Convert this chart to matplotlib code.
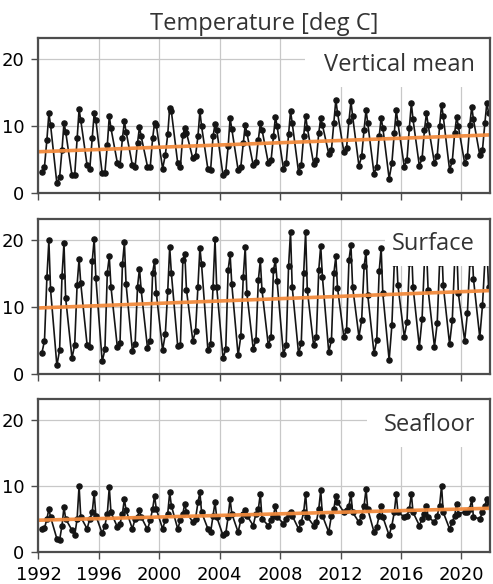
import matplotlib
matplotlib.use("Agg")
import matplotlib.pyplot as plt
import numpy as np
from matplotlib.patches import Rectangle

# sampling: 5 casts per year, given as fraction of the year
years = np.arange(1992, 2022)
sample_frac = [0.22, 0.40, 0.56, 0.69, 0.80]

# values per year: [winter low, late winter, spring, summer peak, autumn]
vertical_mean = [
    [3.2, 4.0, 8.0, 11.9, 10.2], [1.5, 2.4, 6.5, 10.5, 9.2], [2.7, 2.7, 8.2, 12.5, 10.9],
    [4.2, 3.7, 8.2, 11.9, 10.9], [3.0, 3.1, 7.2, 11.5, 9.7], [4.6, 4.2, 8.2, 10.7, 9.2],
    [4.2, 4.0, 7.5, 9.9, 8.5], [4.0, 3.9, 8.2, 10.5, 10.2], [3.7, 5.7, 8.8, 12.7, 12.2],
    [4.5, 4.0, 8.7, 9.7, 9.0], [5.2, 5.6, 8.5, 12.2, 10.0], [3.6, 3.5, 8.5, 10.3, 9.5],
    [2.7, 3.2, 7.0, 11.2, 9.6], [3.5, 4.0, 7.5, 10.2, 9.0], [4.2, 4.7, 8.0, 10.4, 9.5],
    [4.5, 4.9, 8.5, 11.4, 10.0], [3.7, 4.5, 8.8, 12.2, 10.5], [3.2, 4.2, 8.5, 11.5, 9.8],
    [4.4, 5.0, 9.0, 11.2, 10.2], [5.9, 6.5, 10.5, 13.9, 12.0], [6.2, 6.8, 10.8, 13.7, 11.5],
    [4.1, 5.5, 9.5, 12.4, 10.5], [2.9, 4.0, 8.5, 11.2, 9.8], [2.2, 4.5, 9.0, 12.4, 10.5],
    [4.0, 5.0, 9.8, 13.4, 11.0], [4.1, 5.2, 9.5, 11.9, 10.2], [4.5, 5.5, 10.0, 13.2, 11.5],
    [3.5, 4.8, 9.0, 11.4, 10.0], [4.5, 5.5, 10.2, 12.9, 11.0], [5.7, 6.5, 10.5, 13.5, 12.0],
]

surface = [
    [3.0, 4.9, 14.4, 19.9, 12.6], [1.2, 3.5, 14.6, 19.5, 11.3], [2.3, 4.3, 13.3, 17.1, 13.5],
    [4.3, 4.0, 16.8, 20.1, 14.3], [1.8, 3.6, 15.1, 17.5, 13.0], [4.0, 4.6, 16.3, 19.6, 13.4],
    [3.4, 4.4, 13.0, 15.7, 12.5], [3.8, 4.8, 15.1, 16.8, 12.1], [3.5, 5.9, 12.3, 18.9, 15.0],
    [4.1, 4.3, 17.0, 17.9, 12.5], [4.9, 6.3, 13.0, 18.8, 16.3], [3.5, 4.4, 13.0, 20.1, 13.0],
    [2.3, 3.6, 15.5, 17.8, 13.4], [2.7, 5.6, 14.4, 18.9, 12.0], [3.7, 5.0, 14.0, 16.9, 12.5],
    [4.2, 5.5, 15.5, 16.9, 13.8], [2.9, 4.2, 16.0, 21.2, 13.0], [3.0, 4.5, 15.0, 21.2, 12.5],
    [4.2, 5.5, 15.5, 19.1, 14.5], [3.2, 5.0, 15.0, 17.5, 12.8], [5.5, 6.5, 17.0, 19.2, 13.0],
    [5.5, 8.0, 16.0, 18.2, 11.8], [3.0, 5.0, 15.3, 18.8, 12.0], [2.0, 7.2, 16.5, 19.0, 13.2],
    [5.5, 7.7, 16.5, 19.5, 13.0], [4.0, 8.2, 17.0, 19.0, 12.5], [4.0, 7.5, 16.5, 20.0, 13.2],
    [4.4, 8.0, 17.0, 19.5, 12.0], [4.9, 9.0, 16.5, 20.0, 14.2], [5.4, 10.2, 17.0, 19.0, 13.0],
]

seafloor = [
    [3.5, 3.6, 5.0, 6.5, 5.3], [2.0, 1.8, 4.0, 6.8, 5.0], [3.3, 2.5, 5.0, 10.0, 5.3],
    [3.5, 5.0, 6.0, 8.9, 5.5], [2.8, 4.0, 5.8, 9.8, 6.0], [3.8, 4.3, 5.8, 8.0, 6.3],
    [3.5, 5.0, 5.3, 6.3, 5.3], [3.4, 4.8, 6.5, 8.5, 6.5], [3.5, 4.8, 5.8, 9.0, 7.0],
    [3.5, 4.8, 5.8, 7.3, 6.0], [4.5, 5.0, 7.5, 9.0, 6.0], [3.5, 3.0, 5.5, 7.5, 5.3],
    [2.5, 2.8, 5.3, 8.0, 5.8], [3.0, 4.8, 5.8, 6.3, 5.5], [4.0, 5.8, 6.5, 8.8, 5.0],
    [4.0, 4.8, 5.5, 7.0, 5.3], [4.3, 5.0, 5.8, 6.0, 5.5], [3.5, 4.5, 6.0, 8.8, 5.3],
    [4.0, 4.5, 6.5, 9.3, 5.5], [3.0, 5.5, 6.5, 8.5, 7.5], [6.0, 6.3, 7.0, 8.8, 6.0],
    [4.5, 5.5, 7.0, 9.5, 6.5], [3.0, 3.8, 5.5, 7.0, 5.3], [2.5, 4.0, 6.0, 8.8, 6.0],
    [5.3, 5.5, 6.5, 8.8, 6.0], [4.0, 5.0, 5.8, 7.0, 5.3], [4.5, 5.5, 7.0, 10.0, 6.0],
    [3.5, 4.5, 5.5, 7.3, 5.8], [6.0, 6.0, 6.5, 8.0, 5.3], [5.0, 6.0, 7.0, 8.0, 7.5],
]

# linear trend, value at start and end of the period
trend_x = [1992.0, 2021.9]
trend_vertical = [6.2, 8.7]
trend_surface = [9.8, 12.4]
trend_seafloor = [4.8, 6.6]

panel_names = ["Vertical mean", "Surface", "Seafloor"]
xtick_years = [1992, 1996, 2000, 2004, 2008, 2012, 2016, 2020]
ytick_vals = [0, 10, 20]

# time axis
t = (years[:, None] + np.array(sample_frac)[None, :]).ravel()

series = [vertical_mean, surface, seafloor]
trends = [trend_vertical, trend_surface, trend_seafloor]

fig = plt.figure(figsize=(4.93, 5.84), dpi=100)
left, width = 0.078, 0.916
boxes = [(0.6687, 0.2663), (0.3604, 0.2646), (0.0548, 0.2620)]
# white patches that sit over the top right corner (label area)
covers = [(0.59, 0.684), (0.767, 0.695), (0.727, 0.686)]
label_y = [0.826, 0.838, 0.833]

axes = []
for i in range(3):
    ax = fig.add_axes([left, boxes[i][0], width, boxes[i][1]])
    vals = np.array(series[i]).ravel()
    ax.plot(t, vals, '-', color='#151515', lw=1.2, marker='o', ms=3.7, zorder=2)
    ax.plot(trend_x, trends[i], '-', color='#f28a3c', lw=2.6, alpha=0.95, zorder=2.2)

    ax.add_patch(Rectangle((covers[i][0], covers[i][1]), 1 - covers[i][0], 1 - covers[i][1],
                           transform=ax.transAxes, facecolor='white', edgecolor='none', zorder=2.4))
    ax.text(0.967, label_y[i], panel_names[i], transform=ax.transAxes, ha='right', va='center',
            fontsize=17, family='Open Sans', color='#333333', zorder=3)

    ax.set_xlim(1992, 2021.9)
    ax.set_ylim(0, 23.1)
    ax.set_xticks(xtick_years)
    ax.set_yticks(ytick_vals)
    ax.grid(True, color='#c8c8c8', lw=0.9)
    ax.set_axisbelow(True)
    for s in ax.spines.values():
        s.set_color('#4d4d4d')
        s.set_linewidth(1.6)
    ax.tick_params(length=5, width=1.0, color='#4d4d4d', labelsize=13, pad=5)
    if i < 2:
        ax.tick_params(labelbottom=False)
    axes.append(ax)

axes[0].set_title("Temperature [deg C]", fontsize=17, family='Open Sans', color='#333333', pad=6)

fig.savefig("out.png", dpi=100)
